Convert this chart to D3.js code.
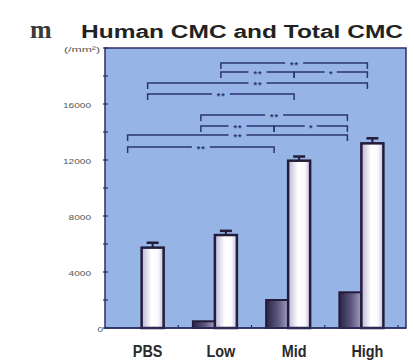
<html>
<head>
  <style>
  body { margin: 0; background: #fff; }
  .tick-label { font-family: "Liberation Sans", Arial, sans-serif; font-size: 8px; fill: #555; }
  .cat { font-family: "Liberation Sans", Arial, sans-serif; font-size: 16px; font-weight: bold; fill: #2a2a2a; text-anchor: middle; }
  .sig { font-family: "Liberation Sans", Arial, sans-serif; font-size: 9px; font-weight: bold; fill: #2c3570; text-anchor: middle; letter-spacing: 1px; }
  </style>
  <script src="https://cdn.jsdelivr.net/npm/d3@7"></script>
</head>
<body>
<svg id="chart" width="414" height="363"></svg>
<script>
// data
var categories = ["PBS", "Low", "Mid", "High"];
var humanCMC = [0, 480, 2000, 2550];      // dark bars
var totalCMC = [5740, 6640, 11950, 13190]; // white bars
var totalErr = [350, 300, 300, 360];
var yTicks = [0, 2000, 4000, 6000, 8000, 10000, 12000, 14000, 16000, 18000, 20000];
var yLabels = [0, 4000, 8000, 12000, 16000];

// significance brackets: [set, from, to, level, label]
var brackets = [
  ["total", "Low", "High", 18930, "**"],
  ["total", "Low", "Mid", 18290, "**"],
  ["total", "Mid", "High", 18290, "*"],
  ["total", "PBS", "High", 17500, "**"],
  ["total", "PBS", "Mid", 16710, "**"],
  ["human", "Low", "High", 15210, "**"],
  ["human", "Low", "Mid", 14430, "**"],
  ["human", "Mid", "High", 14430, "*"],
  ["human", "PBS", "High", 13790, "**"],
  ["human", "PBS", "Mid", 12930, "**"]
];

var svg = d3.select("#chart");
var pLeft = 105, pRight = 406, pTop = 48, pBottom = 328;

var x = d3.scaleBand().domain(categories).range([pLeft, 398]);
var y = d3.scaleLinear().domain([0, 20000]).range([pBottom, pTop]);
var barW = 22;
function mid(c) { return x(c) + x.bandwidth() / 2; }

var defs = svg.append("defs");
var gw = defs.append("linearGradient").attr("id", "gWhite");
gw.append("stop").attr("offset", "0%").attr("stop-color", "#bdb6d8");
gw.append("stop").attr("offset", "45%").attr("stop-color", "#ffffff");
gw.append("stop").attr("offset", "75%").attr("stop-color", "#fbfaff");
gw.append("stop").attr("offset", "100%").attr("stop-color", "#c4bedd");
var gd = defs.append("linearGradient").attr("id", "gDark");
gd.append("stop").attr("offset", "0%").attr("stop-color", "#2a2346");
gd.append("stop").attr("offset", "55%").attr("stop-color", "#5e5880");
gd.append("stop").attr("offset", "100%").attr("stop-color", "#a29fbd");

// titles
svg.append("text").attr("x", 30).attr("y", 38)
   .attr("font-family", "'Liberation Serif', 'Times New Roman', serif")
   .attr("font-size", 26).attr("font-weight", "bold").attr("fill", "#3a3a3a").text("m");
svg.append("text").attr("x", 81).attr("y", 38)
   .attr("font-family", "'Liberation Sans', Arial, sans-serif")
   .attr("font-size", 18).attr("font-weight", "bold").attr("fill", "#222")
   .attr("textLength", 322).attr("lengthAdjust", "spacingAndGlyphs")
   .text("Human CMC and Total CMC");

// plot background
svg.append("rect").attr("x", pLeft).attr("y", pTop)
   .attr("width", pRight - pLeft).attr("height", pBottom - pTop)
   .attr("fill", "#96b5e6").attr("stroke", "#2b3060").attr("stroke-width", 1.5);

// y ticks and labels
svg.selectAll("line.ytick").data(yTicks).enter().append("line")
   .attr("x1", pLeft - 2).attr("x2", pLeft + 3)
   .attr("y1", function(d) { return y(d); }).attr("y2", function(d) { return y(d); })
   .attr("stroke", "#2b3060").attr("stroke-width", 1.2);
svg.selectAll("text.ytl").data(yLabels).enter().append("text")
   .attr("class", "tick-label")
   .attr("x", function(d) { return d === 0 ? 103 : 91; })
   .attr("y", function(d) { return y(d) + 4; })
   .attr("text-anchor", "end")
   .attr("textLength", function(d) { return String(d).length * 5.6; })
   .attr("lengthAdjust", "spacingAndGlyphs")
   .text(function(d) { return d; });
svg.append("text").attr("class", "tick-label").attr("font-size", 7)
   .attr("x", 100).attr("y", 52).attr("text-anchor", "end")
   .attr("textLength", 36).attr("lengthAdjust", "spacingAndGlyphs")
   .text("(/mm\u00b2)");

// x ticks at band borders
svg.selectAll("line.xtick").data(categories).enter().append("line")
   .attr("x1", function(d, i) { return pLeft + x.step() * (i + 1); })
   .attr("x2", function(d, i) { return pLeft + x.step() * (i + 1); })
   .attr("y1", pBottom).attr("y2", pBottom - 3)
   .attr("stroke", "#2b3060").attr("stroke-width", 1.2);

// bars
svg.selectAll("rect.human").data(categories).enter().append("rect")
   .attr("x", function(d) { return mid(d) - barW; })
   .attr("y", function(d, i) { return y(humanCMC[i]); })
   .attr("width", barW)
   .attr("height", function(d, i) { return pBottom - y(humanCMC[i]); })
   .attr("fill", "url(#gDark)").attr("stroke", "#231c3a").attr("stroke-width", 2);

svg.selectAll("line.err").data(categories).enter().append("line")
   .attr("x1", function(d) { return mid(d) + barW / 2; })
   .attr("x2", function(d) { return mid(d) + barW / 2; })
   .attr("y1", function(d, i) { return y(totalCMC[i]); })
   .attr("y2", function(d, i) { return y(totalCMC[i] + totalErr[i]); })
   .attr("stroke", "#231c3a").attr("stroke-width", 2);
svg.selectAll("line.cap").data(categories).enter().append("line")
   .attr("x1", function(d) { return mid(d) + barW / 2 - 6; })
   .attr("x2", function(d) { return mid(d) + barW / 2 + 6; })
   .attr("y1", function(d, i) { return y(totalCMC[i] + totalErr[i]); })
   .attr("y2", function(d, i) { return y(totalCMC[i] + totalErr[i]); })
   .attr("stroke", "#231c3a").attr("stroke-width", 2.5);

svg.selectAll("rect.total").data(categories).enter().append("rect")
   .attr("x", function(d) { return mid(d); })
   .attr("y", function(d, i) { return y(totalCMC[i]); })
   .attr("width", barW)
   .attr("height", function(d, i) { return pBottom - y(totalCMC[i]); })
   .attr("fill", "url(#gWhite)").attr("stroke", "#231c3a").attr("stroke-width", 2.5);

// x axis line
svg.append("line").attr("x1", pLeft).attr("x2", pRight).attr("y1", pBottom).attr("y2", pBottom)
   .attr("stroke", "#2b3060").attr("stroke-width", 1.5);

// category labels (a bit condensed, like the print)
svg.selectAll("text.cat").data(categories).enter().append("text")
   .attr("class", "cat")
   .attr("x", function(d) { return mid(d) + 6; })
   .attr("y", 357)
   .text(function(d) { return d; })
   .each(function() {
     var w = this.getComputedTextLength();
     d3.select(this).attr("textLength", w * 0.9).attr("lengthAdjust", "spacingAndGlyphs");
   });

// significance brackets
function bx(set, c) { return set === "total" ? mid(c) + 6 : mid(c) - 14; }
var bg = svg.append("g").attr("stroke", "#2c3570").attr("stroke-width", 1.5).attr("fill", "none");
brackets.forEach(function(b) {
  var x1 = bx(b[0], b[1]), x2 = bx(b[0], b[2]), yy = y(b[3]);
  var cx = (x1 + x2) / 2, gap = b[4] === "*" ? 6 : 9;
  bg.append("path")
    .attr("d", "M" + x1 + "," + (yy + 6) + "V" + yy + "H" + (cx - gap) +
               "M" + (cx + gap) + "," + yy + "H" + x2 + "V" + (yy + 6));
  svg.append("text").attr("class", "sig").attr("x", cx + 0.5).attr("y", yy + 5).text(b[4]);
});
</script>
</body>
</html>
